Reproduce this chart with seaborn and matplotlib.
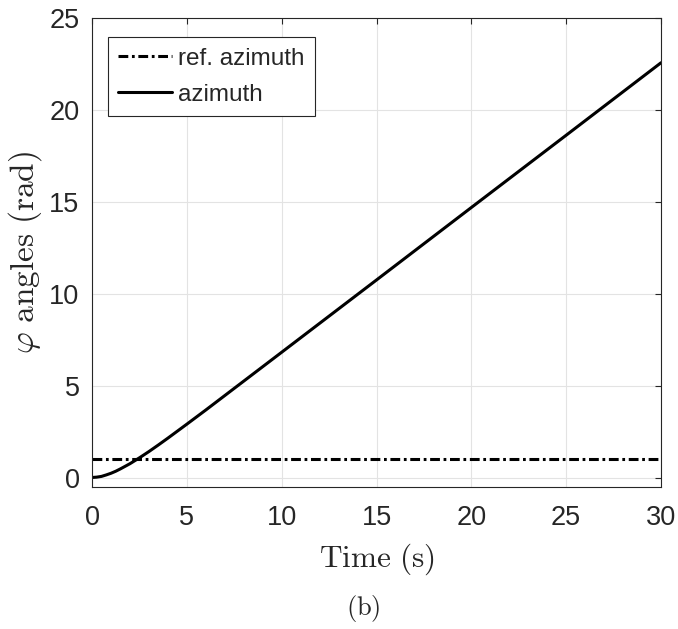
import matplotlib
matplotlib.use("Agg")
import matplotlib.pyplot as plt
import seaborn as sns
import pandas as pd

# Azimuth response (rad) sampled over time (s)
time_s = [0, 0.25, 0.5, 0.75, 1, 1.25, 1.5, 1.75, 2, 2.5, 3, 3.5, 4,
          5, 6, 8, 10, 15, 20, 25, 30]
azimuth = [0, 0.02, 0.06, 0.14, 0.23, 0.34, 0.47, 0.61, 0.75, 1.07, 1.41,
           1.77, 2.14, 2.90, 3.67, 5.24, 6.81, 10.74, 14.68, 18.61, 22.55]

# Constant reference azimuth
ref_time_s = [0, 30]
ref_azimuth = [1, 1]

x_ticks = [0, 5, 10, 15, 20, 25, 30]
y_ticks = [0, 5, 10, 15, 20, 25]

sns.set_theme(style="white")
plt.rcParams.update({
    "font.family": ["Liberation Sans", "DejaVu Sans"],
    "mathtext.fontset": "cm",
    "axes.edgecolor": "#262626",
    "axes.linewidth": 0.8,
    "xtick.color": "#262626",
    "ytick.color": "#262626",
    "xtick.direction": "in",
    "ytick.direction": "in",
})

fig = plt.figure(figsize=(6.78, 6.29), dpi=100)
ax = fig.add_axes([92 / 678, 1 - 486.7 / 629, (661 - 92) / 678, (486.7 - 17.7) / 629])

ref_df = pd.DataFrame({"t": ref_time_s, "phi": ref_azimuth})
az_df = pd.DataFrame({"t": time_s, "phi": azimuth})

dashdot = [3.2, 1.2, 0.9, 1.2]

sns.lineplot(data=ref_df, x="t", y="phi", ax=ax, color="black", lw=2.2,
             label="ref. azimuth")
sns.lineplot(data=az_df, x="t", y="phi", ax=ax, color="black", lw=2.2,
             label="azimuth")
ax.lines[0].set_dashes(dashdot)

ax.set_xlim(0, 30)
ax.set_ylim(-0.5, 25)
ax.set_xticks(x_ticks)
ax.set_yticks(y_ticks)
ax.tick_params(axis="both", which="both", labelsize=19.5, length=4.5, width=0.8,
               top=True, right=True, labelcolor="#262626")
ax.tick_params(axis="x", pad=13)
ax.tick_params(axis="y", pad=9)
ax.grid(True, color="#e3e3e3", lw=0.8)
ax.set_axisbelow(True)

ax.set_xlabel(r"$\mathrm{Time\ (s)}$", fontsize=22.5, color="#262626", labelpad=8)
ax.set_ylabel(r"$\varphi\ \mathrm{angles\ (rad)}$", fontsize=24, color="#262626",
              labelpad=4)

leg = ax.legend(loc="upper left", bbox_to_anchor=(0.0286, 0.958), borderaxespad=0,
                fontsize=17.5, frameon=True, fancybox=False, framealpha=1,
                edgecolor="#262626", handlelength=2.2, handletextpad=0.25,
                labelspacing=0.58, borderpad=0.42)
leg.get_frame().set_linewidth(0.8)
for h in leg.get_lines():
    h.set_linewidth(2.2)
leg.get_lines()[0].set_dashes(dashdot)

fig.text(363 / 678, 1 - 609 / 629, r"$\mathrm{(b)}$", fontsize=19,
         ha="center", va="center", color="#262626")

fig.savefig("out.png", dpi=100)
